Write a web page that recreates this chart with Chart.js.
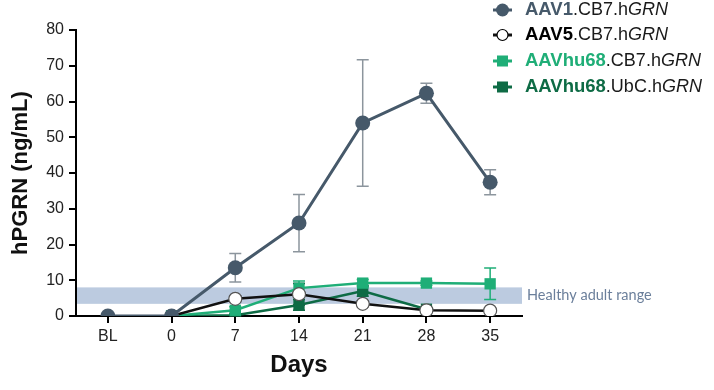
<!DOCTYPE html>
<html>
<head>
<meta charset="utf-8">
<script src="https://cdn.jsdelivr.net/npm/chart.js@4/dist/chart.umd.min.js"></script>
<style>
  html, body { margin: 0; padding: 0; background: #fff; }
</style>
</head>
<body>
<canvas id="chart" width="714" height="390"></canvas>
<script>
// x categories (days after dosing)
const days = ['BL', '0', '7', '14', '21', '28', '35'];

// mean hPGRN (ng/mL) and SD per group
const aav1 = [0, 0, 13.5, 26, 54, 62.3, 37.4];
const aav1Sd = [0, 0, 4, 8, 17.7, 2.8, 3.5];
const aav5 = [null, 0, 4.8, 6.1, 3.4, 1.6, 1.5];
const aav5Sd = [0, 0, 0.8, 3, 0.8, 0.5, 0.4];
const hu68Cb7 = [null, 0, 1.6, 7.8, 9.2, 9.2, 9.0];
const hu68Cb7Sd = [0, 0, 1, 2, 1, 0.6, 4.4];
const hu68Ubc = [null, 0, 0.2, 3.1, 7.0, 1.9, null];
const hu68UbcSd = [0, 0, 0.3, 1.5, 1.5, 0.5, 0];

// healthy adult range band (ng/mL)
const healthyRange = [3.4, 8.0];
const yMax = 80;
const yStep = 10;

const colors = {
  aav1: '#46596a',
  aav1Err: '#8c959d',
  aav5: '#111111',
  cb7: '#1fae77',
  ubc: '#0e6b45',
  band: '#bccbe0',
  bandText: '#6b7f9b'
};

const errors = [aav1Sd, aav5Sd, hu68Cb7Sd, hu68UbcSd];
const errColors = [colors.aav1Err, colors.aav5, colors.cb7, colors.ubc];

const legendRows = [
  { prefix: 'AAV1', rest: '.CB7.h', color: colors.aav1, line: colors.aav1, shape: 'circle', fill: colors.aav1 },
  { prefix: 'AAV5', rest: '.CB7.h', color: '#000', line: colors.aav5, shape: 'circle', fill: '#fff' },
  { prefix: 'AAVhu68', rest: '.CB7.h', color: colors.cb7, line: colors.cb7, shape: 'rect', fill: colors.cb7 },
  { prefix: 'AAVhu68', rest: '.UbC.h', color: colors.ubc, line: colors.ubc, shape: 'rect', fill: colors.ubc }
];
const legendY = [10, 35, 61, 87];

const FONT = '"Liberation Sans", Arial, sans-serif';

const extras = {
  id: 'extras',
  beforeDatasetsDraw(chart) {
    const { ctx, chartArea, scales: { x, y } } = chart;
    ctx.save();
    // healthy range band
    const top = y.getPixelForValue(healthyRange[1]);
    const bot = y.getPixelForValue(healthyRange[0]);
    ctx.fillStyle = colors.band;
    ctx.fillRect(chartArea.left + 1, top, chartArea.right - chartArea.left - 1, bot - top);

    // error bars
    chart.data.datasets.forEach((ds, i) => {
      const sd = errors[i];
      ctx.strokeStyle = errColors[i];
      ctx.lineWidth = 1.5;
      ds.data.forEach((v, j) => {
        if (v == null || !sd[j]) return;
        const px = x.getPixelForValue(j);
        const hi = y.getPixelForValue(v + sd[j]);
        const lo = y.getPixelForValue(Math.max(0, v - sd[j]));
        ctx.beginPath();
        ctx.moveTo(px, hi); ctx.lineTo(px, lo);
        ctx.moveTo(px - 6, hi); ctx.lineTo(px + 6, hi);
        ctx.moveTo(px - 6, lo); ctx.lineTo(px + 6, lo);
        ctx.stroke();
      });
    });
    ctx.restore();
  },
  afterDraw(chart) {
    const { ctx, chartArea, scales: { y } } = chart;
    ctx.save();
    // band label
    ctx.font = '14.5px Lato, "Open Sans", sans-serif';
    ctx.fillStyle = colors.bandText;
    ctx.textBaseline = 'middle';
    ctx.textAlign = 'left';
    const mid = y.getPixelForValue((healthyRange[0] + healthyRange[1]) / 2);
    ctx.fillText('Healthy adult range', chartArea.right + 5, mid);

    // legend
    legendRows.forEach((r, i) => {
      const cy = legendY[i];
      ctx.strokeStyle = r.line;
      ctx.lineWidth = 3;
      ctx.beginPath();
      ctx.moveTo(493, cy); ctx.lineTo(512, cy);
      ctx.stroke();
      if (r.shape === 'circle') {
        ctx.beginPath();
        ctx.arc(502.5, cy, r.fill === '#fff' ? 5.5 : 6.5, 0, Math.PI * 2);
        ctx.fillStyle = r.fill;
        ctx.fill();
        if (r.fill === '#fff') { ctx.lineWidth = 1.2; ctx.strokeStyle = '#000'; ctx.stroke(); }
      } else {
        ctx.fillStyle = r.fill;
        ctx.fillRect(497, cy - 5.5, 11, 11);
      }
      let tx = 525;
      const parts = [
        { t: r.prefix, f: 'bold 18.5px ' + FONT, c: r.color },
        { t: r.rest, f: '18px ' + FONT, c: '#1a1a1a' },
        { t: 'GRN', f: 'italic 18px ' + FONT, c: '#1a1a1a' }
      ];
      parts.forEach(p => {
        ctx.font = p.f;
        ctx.fillStyle = p.c;
        ctx.fillText(p.t, tx, cy);
        tx += ctx.measureText(p.t).width;
      });
    });
    ctx.restore();
  }
};

new Chart(document.getElementById('chart').getContext('2d'), {
  type: 'line',
  data: {
    labels: days,
    datasets: [
      {
        label: 'AAV1.CB7.hGRN', data: aav1,
        borderColor: colors.aav1, backgroundColor: colors.aav1,
        borderWidth: 3, pointRadius: 7.5, pointBorderWidth: 0,
        pointBackgroundColor: colors.aav1
      },
      {
        label: 'AAV5.CB7.hGRN', data: aav5,
        borderColor: colors.aav5, backgroundColor: '#fff',
        borderWidth: 2.5, pointRadius: 6.5, pointBorderWidth: 1.2,
        pointBackgroundColor: '#fff', pointBorderColor: '#555'
      },
      {
        label: 'AAVhu68.CB7.hGRN', data: hu68Cb7,
        borderColor: colors.cb7, backgroundColor: colors.cb7,
        borderWidth: 2.5, pointStyle: 'rect', pointRadius: 8, pointBorderWidth: 0,
        pointBackgroundColor: colors.cb7
      },
      {
        label: 'AAVhu68.UbC.hGRN', data: hu68Ubc,
        borderColor: colors.ubc, backgroundColor: colors.ubc,
        borderWidth: 2.5, pointStyle: 'rect', pointRadius: 8, pointBorderWidth: 0,
        pointBackgroundColor: colors.ubc
      }
    ]
  },
  options: {
    responsive: false,
    animation: false,
    layout: { padding: { top: 30, right: 192, bottom: 0, left: 0 } },
    plugins: { legend: { display: false }, tooltip: { enabled: false } },
    scales: {
      x: {
        offset: true,
        grid: { drawOnChartArea: false, drawTicks: true, tickLength: 7, tickColor: '#000', lineWidth: 2 },
        border: { color: '#000', width: 2 },
        ticks: { font: { family: FONT, size: 16 }, color: '#222', padding: 4, maxRotation: 0 },
        title: { display: true, text: 'Days', color: '#111', font: { family: FONT, size: 24, weight: 'bold' }, padding: { bottom: 10 } },
        afterFit(s) { s.height = 74; }
      },
      y: {
        min: 0, max: yMax,
        grid: { drawOnChartArea: false, drawTicks: true, tickLength: 7, tickColor: '#000', lineWidth: 2 },
        border: { color: '#000', width: 2 },
        ticks: { stepSize: yStep, font: { family: FONT, size: 16 }, color: '#222', padding: 5 },
        title: { display: true, text: 'hPGRN (ng/mL)', color: '#111', font: { family: FONT, size: 22, weight: 'bold' }, padding: { top: 8 } },
        afterFit(s) { s.width = 76; }
      }
    }
  },
  plugins: [extras]
});
</script>
</body>
</html>
